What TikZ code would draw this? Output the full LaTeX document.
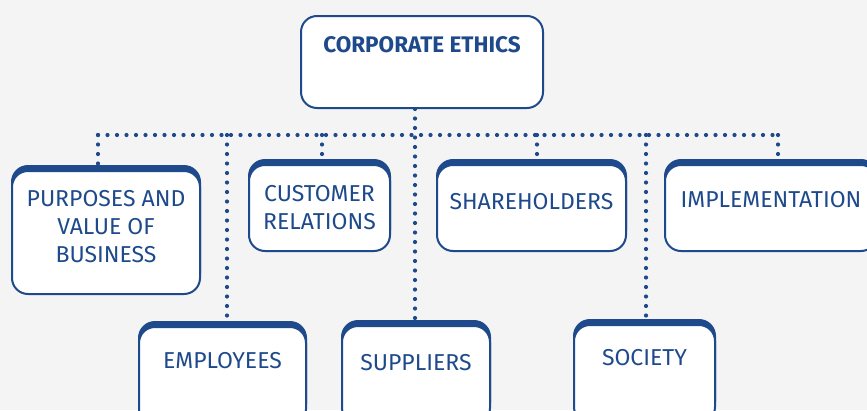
\documentclass[tikz,border=0pt]{standalone}
\usepackage{fontspec}
\setmainfont{Fira Sans}
\usetikzlibrary{calc}
\definecolor{ethicsBlue}{HTML}{1E4A8C}
\definecolor{paperGray}{HTML}{F4F4F4}

\begin{document}
\begin{tikzpicture}[x=1pt, y=-1pt,
    card/.style={draw=ethicsBlue, line width=2pt, fill=white, rounded corners=16pt,
        text=ethicsBlue, align=center, inner sep=0pt,
        font=\fontsize{23}{28}\selectfont},
    tabcard/.style={card, preaction={fill=ethicsBlue, draw=ethicsBlue,
        transform canvas={yshift=5pt}}},
    lift/.style={text height=16pt, text depth=#1},
    dotline/.style={ethicsBlue, line width=4.2pt, line cap=round,
        dash pattern=on 0pt off 9.5pt}]
    \fill[paperGray] (0,0) rectangle (867,410);
    \useasboundingbox (0,0) rectangle (867,410);
    \clip (0,0) rectangle (867,410);

    % ---------- top ----------
    \node[card, minimum width=242pt, minimum height=92pt, lift=34.5pt,
        font=\fontsize{22.5}{28}\selectfont\bfseries] (ethics) at (422,62) {CORPORATE ETHICS};

    % ---------- middle row ----------
    \node[tabcard, minimum width=188pt, minimum height=123pt, text depth=13pt] (purp) at (106,232.5)
        {PURPOSES AND\\VALUE OF\\BUSINESS};
    \node[tabcard, minimum width=141pt, minimum height=86pt] (cust) at (319.5,208)
        {CUSTOMER\\RELATIONS};
    \node[tabcard, minimum width=189pt, minimum height=86pt, lift=12.5pt] (share) at (531.5,208)
        {SHAREHOLDERS};
    \node[tabcard, minimum width=212pt, minimum height=86pt, lift=16.5pt] (impl) at (771,208)
        {IMPLEMENTATION};

    % ---------- bottom row ----------
    \node[tabcard, minimum width=167pt, minimum height=98pt, lift=30.5pt] (emp) at (222.5,376)
        {EMPLOYEES};
    \node[tabcard, minimum width=148pt, minimum height=98pt, lift=24.5pt] (supp) at (416,375)
        {SUPPLIERS};
    \node[tabcard, minimum width=141pt, minimum height=98pt, lift=32.5pt] (soc) at (644.5,374)
        {SOCIETY};

    % ---------- dotted links ----------
    \coordinate (busL) at (98,135);
    \coordinate (busR) at (778,135);
    \draw[dotline] (busL) -- (busR);
    \foreach \n/\x in {purp/98, cust/322, share/537, impl/778, emp/227, soc/646} {
        \coordinate (j\n) at (\x,135);
        \coordinate (t\n) at ([yshift=5pt]\n.north);
        \draw[dotline] (j\n) -- (j\n |- t\n);
    }
    \coordinate (jsupp) at (415,135);
    \coordinate (tsupp) at ([yshift=5pt]supp.north);
    \draw[dotline] (ethics.south -| jsupp) -- (jsupp |- tsupp);
\end{tikzpicture}
\end{document}
